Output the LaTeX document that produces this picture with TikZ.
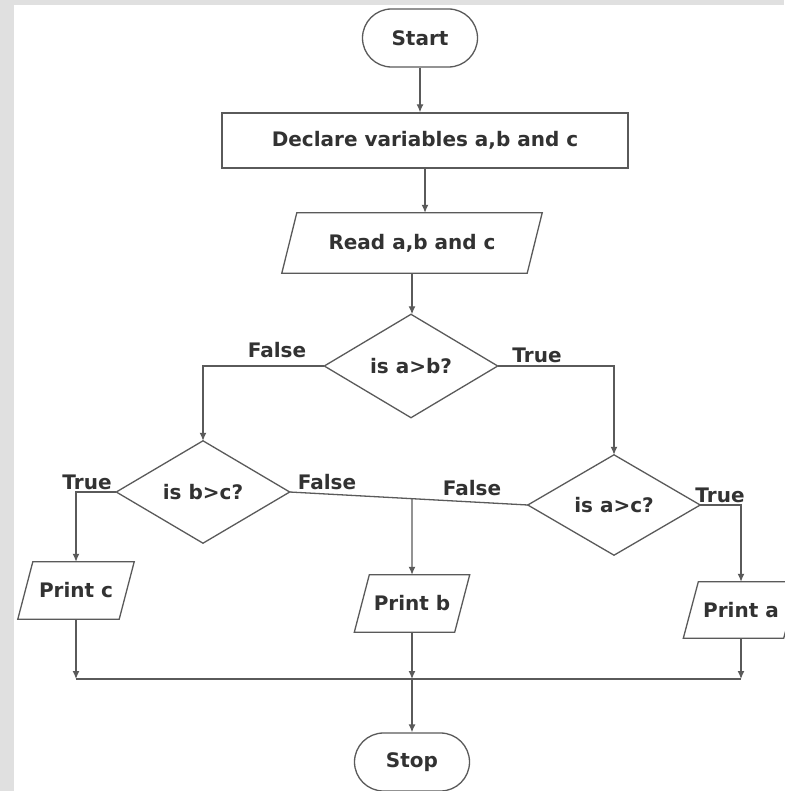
\documentclass[tikz,border=0pt]{standalone}
\usepackage{fontspec}
\setmainfont{DejaVu Sans}
\usetikzlibrary{arrows.meta,shapes.misc,calc}
\definecolor{ln}{RGB}{90,90,90}
\definecolor{tx}{RGB}{50,50,50}
\definecolor{bg}{RGB}{224,224,224}
\begin{document}
\begin{tikzpicture}[x=1pt,y=-1pt,
  every node/.style={text=tx,font=\fontsize{20}{24}\selectfont\bfseries},
  line/.style={draw=ln,line width=1.3pt},
  arr/.style={line,-{Latex[length=8pt,width=7pt]}},
  term/.style={rounded rectangle,draw=ln,line width=1.3pt,minimum width=115pt,minimum height=58pt,inner sep=0pt},
  proc/.style={rectangle,draw=ln,line width=1.3pt,inner sep=0pt},
  box/.style={rectangle,inner sep=0pt},
  lbl/.style={inner sep=0pt}]
\fill[bg] (0,0) rectangle (784,791);
\fill[white] (14,5) rectangle (784,791);
\useasboundingbox (0,0) rectangle (784,791);

\node[term] (start) at (420,38) {Start};
\node[proc,minimum width=406pt,minimum height=55pt] (decl) at (425,140.5) {Declare variables a,b and c};
\node[box,minimum width=245pt,minimum height=60pt] (read) at (412,243) {Read a,b and c};
\node[box,minimum width=173pt,minimum height=103pt] (ab) at (411,366) {is a>b?};
\node[box,minimum width=173pt,minimum height=102pt] (bc) at (203,492) {is b>c?};
\node[box,minimum width=172pt,minimum height=100pt] (ac) at (614,505) {is a>c?};
\node[box,minimum width=101pt,minimum height=57pt] (pc) at (76,590.5) {Print c};
\node[box,minimum width=100pt,minimum height=57pt] (pb) at (412,603.5) {Print b};
\node[box,minimum width=100pt,minimum height=56pt] (pa) at (741,610) {Print a};
\node[term] (stop) at (412,762) {Stop};

\foreach \n in {read,pc,pb,pa}
  \draw[line] ($(\n.north west)+(7.5,0)$) -- ($(\n.north east)+(7.5,0)$) -- ($(\n.south east)+(-7.5,0)$) -- ($(\n.south west)+(-7.5,0)$) -- cycle;
\foreach \n in {ab,bc,ac}
  \draw[line] (\n.north) -- (\n.east) -- (\n.south) -- (\n.west) -- cycle;

\draw[arr] (start.south) -- (start.south |- decl.north);
\draw[arr] (decl.south) -- (decl.south |- read.north);
\draw[arr] (read.south) -- (read.south |- ab.north);
\draw[arr] (ab.west) -| (bc.north);
\draw[arr] (ab.east) -| (ac.north);
\draw[arr] (bc.west) -| (pc.north);
\draw[arr] (ac.east) -| (pa.north);
\draw[line] (bc.east) -- (ac.west);
\coordinate (J) at (intersection of bc.east--ac.west and pb.north--pb.south);
\draw[arr] (J) -- (pb.north);
\coordinate (base) at (0,679);
\coordinate (Lc) at (pc.south |- base);
\coordinate (Lb) at (pb.south |- base);
\coordinate (La) at (pa.south |- base);
\draw[arr] (pc.south) -- (Lc);
\draw[arr] (pb.south) -- (Lb);
\draw[arr] (pa.south) -- (La);
\draw[line] (Lc) -- (La);
\draw[arr] (Lb) -- (Lb |- stop.north);

\node[lbl] (l1) at (277,350) {False};
\node[lbl] (l2) at (537,355) {True};
\node[lbl] (l3) at (87,482) {True};
\node[lbl] (l4) at (327,482) {False};
\node[lbl] (l5) at (472,488) {False};
\node[lbl] (l6) at (720,495) {True};
\end{tikzpicture}
\end{document}
